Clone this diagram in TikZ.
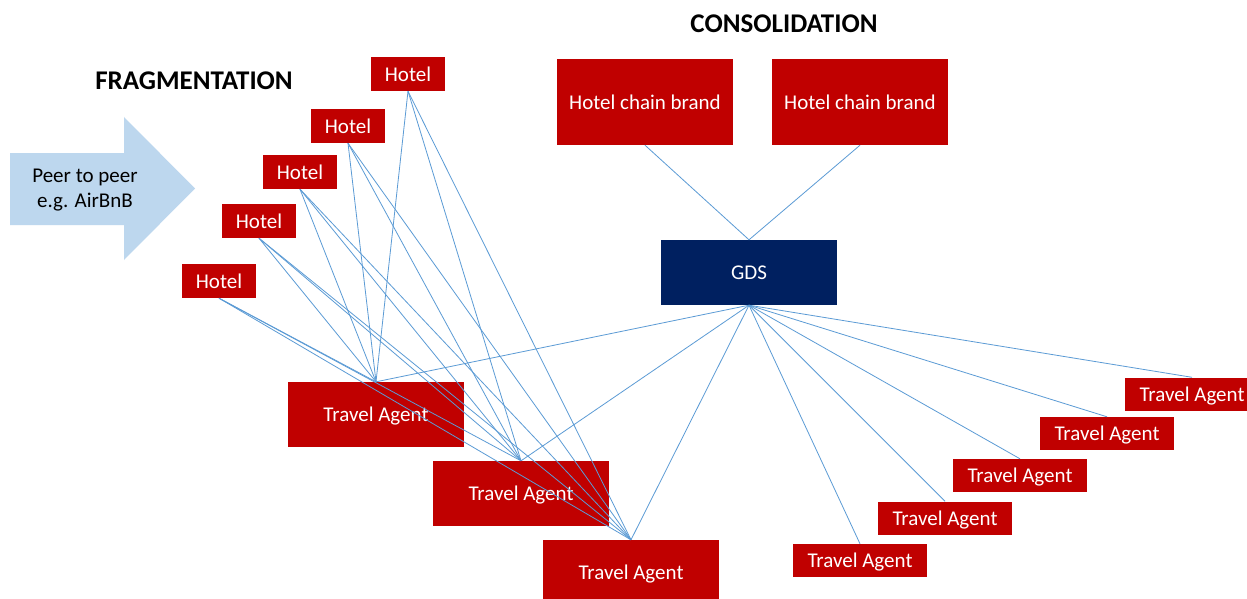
\documentclass[tikz,border=0pt]{standalone}
\usepackage{fontspec}
\setmainfont{Carlito}
\definecolor{boxred}{HTML}{C00000}
\definecolor{gdsblue}{HTML}{002060}
\definecolor{linkblue}{HTML}{5B9BD5}
\definecolor{arrowblue}{HTML}{BDD7EE}
\begin{document}
\begin{tikzpicture}[x=1pt,y=-1pt,
  box/.style={fill=boxred, text=white, inner sep=0pt, text depth=0pt, font=\fontsize{21}{24}\selectfont},
  hotelbox/.style={box, minimum width=74pt, minimum height=34pt},
  agentbox/.style={box, minimum width=176pt, minimum height=65pt},
  smallagent/.style={box, minimum width=134pt, minimum height=33pt},
  chainbox/.style={box, minimum width=176pt, minimum height=86pt},
  gdsbox/.style={box, fill=gdsblue, minimum width=176pt, minimum height=65pt},
  link/.style={draw=linkblue, line width=0.8pt},
  title/.style={font=\bfseries\fontsize{27}{30}\selectfont, text=black, inner sep=0pt}]
\clip (0,0) rectangle (1247,599);
\fill[white] (0,0) rectangle (1247,599);
% arrow
\fill[arrowblue] (10,153) -- (124,153) -- (124,117) -- (195,188.5) -- (124,260) -- (124,225) -- (10,225) -- cycle;
\node[align=center, text=black, inner sep=0pt, font=\fontsize{21}{24.6}\selectfont] (p2p) at (85,190) {Peer to peer\\e.g. AirBnB};
% titles
\node[title] (frag) at (194,81) {FRAGMENTATION};
\node[title] (cons) at (784,24) {CONSOLIDATION};
% hotels
\node[hotelbox] (h1) at (408,74) {Hotel};
\node[hotelbox] (h2) at (348,126) {Hotel};
\node[hotelbox] (h3) at (300,172) {Hotel};
\node[hotelbox] (h4) at (259,221) {Hotel};
\node[hotelbox] (h5) at (219,281) {Hotel};
% left agents
\node[agentbox] (ta1) at (376,414.5) {Travel Agent};
\node[agentbox] (ta2) at (521,493.5) {Travel Agent};
\node[agentbox] (ta3) at (631,572.5) {Travel Agent};
% chains and GDS
\node[chainbox] (hc1) at (645,102) {Hotel chain brand};
\node[chainbox] (hc2) at (860,102) {Hotel chain brand};
\node[gdsbox] (gds) at (749,272.5) {GDS};
% right agents
\node[smallagent] (r1) at (860,560.5) {Travel Agent};
\node[smallagent] (r2) at (945,518) {Travel Agent};
\node[smallagent] (r3) at (1020,475.5) {Travel Agent};
\node[smallagent] (r4) at (1107,433.5) {Travel Agent};
\node[smallagent] (r5) at (1192,394) {Travel Agent};
% links
\foreach \h in {h1,h2,h3,h4,h5}{
  \foreach \t in {ta1,ta2,ta3}{
    \draw[link] (\h.south) -- (\t.north);
  }
}
\draw[link] (hc1.south) -- (gds.north);
\draw[link] (hc2.south) -- (gds.north);
\foreach \t in {ta1,ta2,ta3,r1,r2,r3,r4,r5}{
  \draw[link] (gds.south) -- (\t.north);
}
\end{tikzpicture}
\end{document}
